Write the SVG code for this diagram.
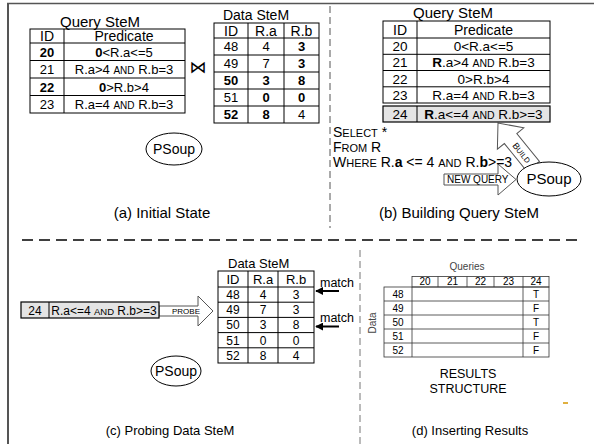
<svg xmlns="http://www.w3.org/2000/svg" width="594" height="444" viewBox="0 0 594 444">
<defs>
<style>
text{font-family:"Liberation Sans",Arial,sans-serif;fill:#000}
.c{text-anchor:middle}
.b{font-weight:bold}
.g{fill:none;stroke:#000;stroke-width:1}
.g2{fill:none;stroke:#333;stroke-width:0.8}
.sh{fill:#e4e4e4;stroke:#000;stroke-width:1.2}
.ba{fill:#fff;stroke:#555;stroke-width:1}
.ps{fill:#fff;stroke:#000;stroke-width:1}
.sm{fill:#444}
</style>
<marker id="ah" viewBox="0 0 10 10" refX="9" refY="5" markerWidth="4" markerHeight="4" orient="auto"><path d="M0,0 L10,5 L0,10 z" fill="#000"/></marker>
</defs>
<rect width="594" height="444" fill="#fff"/>
<g id="frame">
<line x1="8" y1="3" x2="8" y2="444" stroke="#555" stroke-width="2"/>
<line x1="7" y1="3.5" x2="594" y2="3.5" stroke="#555" stroke-width="1.5"/>
<line x1="330" y1="6" x2="330" y2="228" stroke="#555" stroke-width="1" stroke-dasharray="7 4"/>
<line x1="22" y1="240" x2="582" y2="240" stroke="#000" stroke-width="1.5" stroke-dasharray="11 6"/>
<line x1="360" y1="250" x2="360" y2="444" stroke="#777" stroke-width="1" stroke-dasharray="7 4"/>
</g>

<g id="a-query-stem">
<text class="c" x="100" y="26.5" font-size="15">Query SteM</text>
<rect class="g" x="30" y="29" width="155" height="84"/>
<path class="g" d="M30,43H185M30,60.5H185M30,78H185M30,95.5H185M64,29V113"/>
<g font-size="14"><text class="c" x="47" y="41">ID</text><text class="c" x="124" y="41">Predicate</text></g>
<g font-size="13">
<text class="c b" x="47" y="56.5">20</text><text class="c" x="124" y="56.5"><tspan class="b">0</tspan>&lt;R.a&lt;=5</text>
<text class="c" x="47" y="74">21</text><text class="c" x="124" y="74">R.a&gt;4 <tspan font-size="10">AND</tspan> R.b=3</text>
<text class="c b" x="47" y="91.5">22</text><text class="c" x="124" y="91.5"><tspan class="b">0</tspan>&gt;R.b&gt;4</text>
<text class="c" x="47" y="109">23</text><text class="c" x="124" y="109">R.a=4 <tspan font-size="10">AND</tspan> R.b=3</text>
</g>
</g>

<g id="a-join">
<text class="c" x="198" y="73" font-size="17" fill="#333" style="font-family:'DejaVu Sans',sans-serif">⋈</text>
</g>

<g id="a-data-stem">
<text class="c" x="256" y="20" font-size="14">Data SteM</text>
<rect class="g" x="214" y="23" width="105" height="100"/>
<path class="g" d="M214,38H319M214,55H319M214,72H319M214,89H319M214,106H319M248,23V123M284,23V123"/>
<g font-size="14"><text class="c" x="231" y="35.5">ID</text><text class="c" x="266" y="35.5">R.a</text><text class="c" x="301.5" y="35.5">R.b</text></g>
<g font-size="13">
<text class="c" x="231" y="51">48</text><text class="c" x="266" y="51">4</text><text class="c b" x="301.5" y="51">3</text>
<text class="c" x="231" y="68">49</text><text class="c" x="266" y="68">7</text><text class="c b" x="301.5" y="68">3</text>
<text class="c b" x="231" y="85">50</text><text class="c b" x="266" y="85">3</text><text class="c b" x="301.5" y="85">8</text>
<text class="c" x="231" y="102">51</text><text class="c b" x="266" y="102">0</text><text class="c b" x="301.5" y="102">0</text>
<text class="c b" x="231" y="119">52</text><text class="c b" x="266" y="119">8</text><text class="c" x="301.5" y="119">4</text>
</g>
</g>

<g id="a-psoup">
<ellipse class="ps" cx="174" cy="149" rx="28" ry="16"/>
<text class="c" x="174" y="154" font-size="14">PSoup</text>
</g>
<text class="c" x="162" y="218" font-size="15">(a) Initial State</text>

<g id="b-query-stem">
<text class="c" x="453" y="18" font-size="15">Query SteM</text>
<rect class="g" x="383" y="21" width="167" height="82"/>
<path class="g" d="M383,38H550M383,54.3H550M383,70.5H550M383,86.8H550M417,21V103"/>
<g font-size="14"><text class="c" x="400" y="34.5">ID</text><text class="c" x="483.5" y="34.5">Predicate</text></g>
<g font-size="13.5">
<text class="c" x="400" y="51">20</text><text class="c" x="483.5" y="51">0&lt;R.a&lt;=5</text>
<text class="c" x="400" y="67">21</text><text class="c" x="483.5" y="67"><tspan class="b">R</tspan>.a&gt;4 <tspan font-size="10.5">AND</tspan> R.b=3</text>
<text class="c" x="400" y="83.5">22</text><text class="c" x="483.5" y="83.5">0&gt;R.b&gt;4</text>
<text class="c" x="400" y="99.5">23</text><text class="c" x="483.5" y="99.5">R.a=4 <tspan font-size="10.5">AND</tspan> R.b=3</text>
</g>
</g>

<g id="connectors">
<g id="new-query-arrow">
<polygon class="ba" points="444,174 498,174 498,164 516,179.5 498,195 498,185 444,185"/>
<text x="447" y="183" font-size="10" fill="#333">NEW QUERY</text>
</g>
<g id="build-arrow" transform="translate(498,123) rotate(-129)">
<polygon class="ba" points="0,0 -20,-17 -20,-8 -56,-8 -56,8 -20,8 -20,17"/>
<text class="c" transform="translate(-38,0) rotate(180)" y="3.3" font-size="9" fill="#333">B<tspan font-size="7.5">UILD</tspan></text>
</g>
<g id="probe-arrow">
<polygon class="ba" points="159,306 198,306 198,296 213,311 198,326 198,316 159,316"/>
<text x="172" y="314" font-size="8" fill="#555">PROBE</text>
</g>
<line x1="339" y1="291" x2="316" y2="291" stroke="#000" stroke-width="2" marker-end="url(#ah)"/>
<line x1="339" y1="326.5" x2="316" y2="326.5" stroke="#000" stroke-width="2" marker-end="url(#ah)"/>
</g>

<g id="b-new-row">
<rect class="sh" x="383" y="106" width="167" height="16"/>
<line class="g" x1="417" y1="106" x2="417" y2="122"/>
<text class="c" x="400" y="118.5" font-size="13.5">24</text>
<text class="c" x="483.5" y="118.5" font-size="13.5"><tspan class="b">R</tspan>.a&lt;=4 <tspan font-size="10.5">AND</tspan> R.b&gt;=3</text>
</g>

<g id="b-sql" font-size="14">
<text x="333" y="137">S<tspan font-size="11">ELECT</tspan> *</text>
<text x="333" y="152">F<tspan font-size="11">ROM</tspan> R</text>
<text x="333" y="167">W<tspan font-size="11">HERE</tspan> R.<tspan class="b">a</tspan> &lt;= 4 <tspan font-size="11">AND</tspan> R.<tspan class="b">b</tspan>&gt;=3</text>
</g>

<g id="b-psoup">
<ellipse class="ps" cx="549" cy="179" rx="32" ry="17"/>
<text class="c" x="549" y="184" font-size="15">PSoup</text>
</g>
<text class="c" x="459" y="218" font-size="15">(b) Building Query SteM</text>

<g id="c-probe-row">
<rect class="sh" x="21" y="302" width="138" height="16"/>
<line class="g" x1="49" y1="302" x2="49" y2="318"/>
<text class="c" x="35" y="314.5" font-size="12">24</text>
<text class="c" x="104" y="314.5" font-size="12">R.a&lt;=4 <tspan font-size="9.5">AND</tspan> R.b&gt;=3</text>
</g>

<g id="c-data-stem">
<text x="228" y="267.5" font-size="13">Data SteM</text>
<rect class="g" x="218" y="271" width="96" height="92"/>
<path class="g" d="M218,287H314M218,302.2H314M218,317.4H314M218,332.6H314M218,347.8H314M248,271V363M278,271V363"/>
<g font-size="13"><text class="c" x="233" y="283.5">ID</text><text class="c" x="263" y="283.5">R.a</text><text class="c" x="296" y="283.5">R.b</text></g>
<g font-size="12">
<text class="c" x="233" y="299">48</text><text class="c" x="263" y="299">4</text><text class="c" x="296" y="299">3</text>
<text class="c" x="233" y="314.2">49</text><text class="c" x="263" y="314.2">7</text><text class="c" x="296" y="314.2">3</text>
<text class="c" x="233" y="329.4">50</text><text class="c" x="263" y="329.4">3</text><text class="c" x="296" y="329.4">8</text>
<text class="c" x="233" y="344.6">51</text><text class="c" x="263" y="344.6">0</text><text class="c" x="296" y="344.6">0</text>
<text class="c" x="233" y="359.8">52</text><text class="c" x="263" y="359.8">8</text><text class="c" x="296" y="359.8">4</text>
</g>
<text x="320" y="287" font-size="12.5">match</text>
<text x="320" y="321.5" font-size="12.5">match</text>
</g>

<g id="c-psoup">
<ellipse class="ps" cx="176" cy="371" rx="25" ry="15"/>
<text class="c" x="176" y="376" font-size="14">PSoup</text>
</g>
<text class="c" x="170" y="435" font-size="13">(c) Probing Data SteM</text>

<g id="d-results">
<text class="c sm" x="467" y="270" font-size="10">Queries</text>
<text class="c sm" font-size="10" transform="translate(376,323) rotate(-90)">Data</text>
<rect class="g2" x="412" y="276.5" width="137" height="10.5"/>
<path class="g2" d="M438,276.5V287M467,276.5V287M494,276.5V287M523,276.5V287"/>
<rect class="g2" x="384" y="287" width="165" height="70"/>
<path class="g2" d="M384,301H549M384,315H549M384,329H549M384,343H549M412,287V357M523,287V357"/>
<g font-size="10" class="sm">
<text class="c" x="425" y="285">20</text><text class="c" x="452.5" y="285">21</text><text class="c" x="480.5" y="285">22</text><text class="c" x="508.5" y="285">23</text><text class="c" x="536" y="285">24</text>
<text class="c" x="398" y="297.5">48</text><text class="c" x="398" y="311.5">49</text><text class="c" x="398" y="325.5">50</text><text class="c" x="398" y="339.5">51</text><text class="c" x="398" y="353.5">52</text>
<text class="c" x="536" y="297.5">T</text><text class="c" x="536" y="311.5">F</text><text class="c" x="536" y="325.5">T</text><text class="c" x="536" y="339.5">F</text><text class="c" x="536" y="353.5">F</text>
</g>
<text class="c" x="468" y="378" font-size="12.5">RESULTS</text>
<text class="c" x="468" y="393" font-size="12.5">STRUCTURE</text>
<rect x="563" y="402" width="5" height="2" fill="#e0b040"/>
</g>
<text class="c" x="470" y="435" font-size="13">(d) Inserting Results</text>
</svg>
